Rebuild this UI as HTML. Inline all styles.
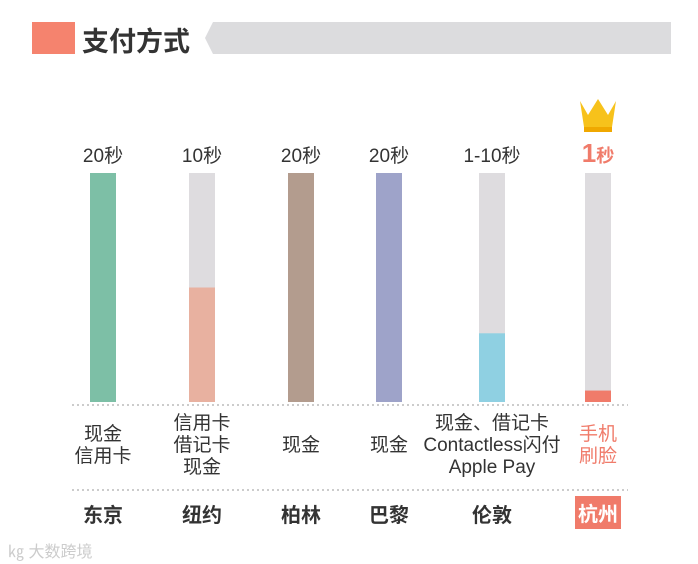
<!DOCTYPE html>
<html><head><meta charset="utf-8"><style>
body{margin:0;width:698px;height:564px;background:#fff;font-family:"Liberation Sans","Noto Sans CJK SC",sans-serif;overflow:hidden;position:relative}
.a{position:absolute}
.lbl{position:absolute;text-align:center;font-size:19px;color:#333;line-height:22px;white-space:nowrap;transform:translateX(-50%)}
.city{position:absolute;font-size:20px;font-weight:bold;color:#333;transform:translateX(-50%);top:499px}
</style></head><body>
<div class="a" style="left:32px;top:22px;width:43px;height:32px;background:#f5836e"></div>
<div class="a" style="left:82px;top:20px;font-size:27px;font-weight:bold;color:#333">支付方式</div>
<svg class="a" style="left:205px;top:22px" width="466" height="32"><polygon points="8,0 466,0 466,32 8,32 0,16" fill="#dcdcde"/></svg>
<svg id="chart" class="a" style="left:0;top:0" width="698" height="564">
<line x1="72" y1="405" x2="628" y2="405" stroke="#bbb" stroke-width="1.5" stroke-dasharray="2,3"/>
<line x1="72" y1="490" x2="628" y2="490" stroke="#bbb" stroke-width="1.5" stroke-dasharray="2,3"/>
<g transform="translate(598,113)">
<polygon points="-18,-12 -10,2 0,-14 10,2 18,-12 14,14 -14,14" fill="#f7c21b"/>
<rect x="-14" y="14" width="28" height="5" fill="#f0a800"/>
</g>
</svg>
<script>
const cities=["东京","纽约","柏林","巴黎","伦敦","杭州"];
const values=[20,10,20,20,6,1];
const valueLabels=["20秒","10秒","20秒","20秒","1-10秒","1秒"];
const methods=[["现金","信用卡"],["信用卡","借记卡","现金"],["现金"],["现金"],["现金、借记卡","Contactless闪付","Apple Pay"],["手机","刷脸"]];
const colors=["#7dbfa6","#e8b1a0","#b39c8e","#9ea3c9","#8fd0e2","#f07b6a"];
const maxV=20,barTop=173,barBottom=402,bw=26;
const xs=i=>[103,202,301,389,492,598][i];
const ys=v=>barBottom-(v/maxV)*(barBottom-barTop);
const svg=document.getElementById('chart');
const NS="http://www.w3.org/2000/svg";
cities.forEach((c,i)=>{
 const x=xs(i);
 const bg=document.createElementNS(NS,'rect');
 bg.setAttribute('x',x-bw/2);bg.setAttribute('y',barTop);bg.setAttribute('width',bw);bg.setAttribute('height',barBottom-barTop);bg.setAttribute('fill','#dedcdf');
 
 
 svg.appendChild(bg);
 const r=document.createElementNS(NS,'rect');
 r.setAttribute('x',x-bw/2);r.setAttribute('y',ys(values[i]));r.setAttribute('width',bw);r.setAttribute('height',barBottom-ys(values[i]));r.setAttribute('fill',colors[i]);
 
 
 svg.appendChild(r);
 const hz=i===5;
 const v=document.createElement('div');v.className='lbl';
 v.style.left=x+'px';v.style.top='146px';
 if(hz){v.innerHTML='<span style="font-size:26px;font-weight:bold">1</span><span style="font-size:18px;font-weight:bold">秒</span>';v.style.color='#f07b6a';v.style.top='142px';}
 else v.textContent=valueLabels[i];
 
 
 document.body.appendChild(v);
 const m=document.createElement('div');m.className='lbl';
 m.innerHTML=methods[i].join('<br>');
 m.style.left=x+'px';
 m.style.top=(446-methods[i].length*11)+'px';
 if(hz){m.style.color='#f07b6a';}
 
 
 document.body.appendChild(m);
 const t=document.createElement('div');t.className='city';t.textContent=c;t.style.left=x+'px';
 if(hz){t.style.background='#f07b6a';t.style.color='#fff';t.style.padding='2px 3px';t.style.top='496px';}
 
 
 document.body.appendChild(t);
});
</script>
<div class="a" style="left:8px;top:538px;font-size:16px;color:#ccc">㎏ 大数跨境</div>
</body></html>
